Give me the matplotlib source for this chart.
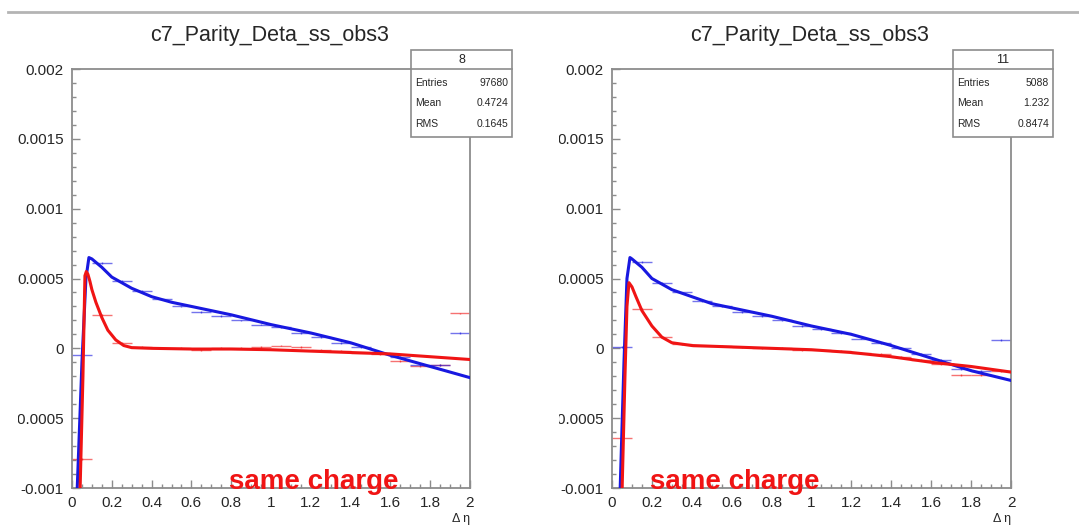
import numpy as np
import matplotlib
matplotlib.use("Agg")
import matplotlib.pyplot as plt
from matplotlib.lines import Line2D
from matplotlib.patches import Rectangle
from matplotlib.transforms import Bbox, TransformedBbox

plt.rcParams['font.family'] = ['Liberation Sans', 'DejaVu Sans']

# histogram bins (delta eta), width 0.1
bin_centers = [0.05, 0.15, 0.25, 0.35, 0.45, 0.55, 0.65, 0.75, 0.85, 0.95,
               1.05, 1.15, 1.25, 1.35, 1.45, 1.55, 1.65, 1.75, 1.85, 1.95]

# left canvas (stat box "8")
left_red_hist = [-0.00079, 0.00024, 0.00004, 0.00001, 0.0, 0.0, -0.00001, 0.0, 0.0, 0.00001,
                 0.00002, 0.00001, -0.00001, -0.00002, -0.00003, -0.00004, -0.00009, -0.00013, -0.00012, 0.00025]
left_blue_hist = [-0.00005, 0.00061, 0.00048, 0.00041, 0.00035, 0.0003, 0.00026, 0.00023, 0.0002, 0.00017,
                  0.00015, 0.00011, 0.00008, 0.00004, 0.00001, -0.00003, -0.00006, -0.00012, -0.00012, 0.00011]
left_red_fit_x = [0.04, 0.055, 0.065, 0.072, 0.08, 0.09, 0.1, 0.12, 0.15, 0.18, 0.22, 0.26, 0.3, 0.4, 0.6, 0.8,
                  1.0, 1.2, 1.4, 1.6, 1.8, 2.0]
left_red_fit_y = [-0.00105, -0.0002, 0.00052, 0.00055, 0.00053, 0.00048, 0.00042, 0.00033, 0.00022, 0.00013,
                  0.00006, 0.00002, 0.000005, 0.0, -0.000005, -0.000005, -0.00001, -0.00002, -0.00003, -0.00004,
                  -0.00006, -0.00008]
left_blue_fit_x = [0.025, 0.05, 0.07, 0.085, 0.1, 0.15, 0.2, 0.3, 0.4, 0.5, 0.6, 0.8, 1.0, 1.2, 1.4, 1.6, 1.8, 2.0]
left_blue_fit_y = [-0.00105, -0.0001, 0.0005, 0.00065, 0.00064, 0.00058, 0.00051, 0.00043, 0.00037, 0.00033,
                   0.0003, 0.00024, 0.00017, 0.00011, 0.00004, -0.00005, -0.00013, -0.00021]

# right canvas (stat box "11")
right_red_hist = [-0.00064, 0.00028, 0.00008, 0.00003, 0.00002, 0.00002, 0.00001, 0.0, 0.0, -0.00001,
                  -0.00001, -0.00002, -0.00003, -0.00004, -0.00006, -0.00008, -0.00011, -0.00019, -0.00019, -0.00016]
right_blue_hist = [0.00001, 0.00062, 0.00047, 0.0004, 0.00034, 0.0003, 0.00026, 0.00023, 0.0002, 0.00016,
                   0.00014, 0.00011, 0.00007, 0.00004, 0.0, -0.00004, -0.00008, -0.00015, -0.00016, 0.00006]
right_red_fit_x = [0.05, 0.065, 0.075, 0.085, 0.1, 0.12, 0.15, 0.2, 0.25, 0.3, 0.4, 0.6, 0.8, 1.0, 1.2, 1.4,
                   1.6, 1.8, 2.0]
right_red_fit_y = [-0.00105, -0.0002, 0.0003, 0.00047, 0.00044, 0.00037, 0.00027, 0.00016, 0.00008, 0.00004,
                   0.00002, 0.00001, 0.0, -0.00001, -0.00003, -0.00006, -0.0001, -0.00013, -0.00017]
right_blue_fit_x = [0.04, 0.06, 0.075, 0.09, 0.1, 0.15, 0.2, 0.3, 0.4, 0.5, 0.6, 0.8, 1.0, 1.2, 1.4, 1.6, 1.8, 2.0]
right_blue_fit_y = [-0.00105, -0.0001, 0.0005, 0.00065, 0.00064, 0.00058, 0.0005, 0.00042, 0.00037, 0.00032,
                    0.00029, 0.00023, 0.00016, 0.0001, 0.00002, -0.00007, -0.00016, -0.00023]

titles = ['c7_Parity_Deta_ss_obs3', 'c7_Parity_Deta_ss_obs3']
stat_names = ['8', '11']
stat_entries = ['97680', '5088']
stat_mean = ['0.4724', '1.232']
stat_rms = ['0.1645', '0.8474']

y_ticks = [-0.001, -0.0005, 0, 0.0005, 0.001, 0.0015, 0.002]
y_tick_labels = ['-0.001', '-0.0005', '0', '0.0005', '0.001', '0.0015', '0.002']
x_ticks = [0, 0.2, 0.4, 0.6, 0.8, 1.0, 1.2, 1.4, 1.6, 1.8, 2.0]
x_tick_labels = ['0', '0.2', '0.4', '0.6', '0.8', '1', '1.2', '1.4', '1.6', '1.8', '2']

RED = '#f01414'
BLUE = '#1818e0'
GRAY = '#8c8c8c'

W, H = 1079, 529
fig = plt.figure(figsize=(W / 100, H / 100), dpi=100)

# thin gray separator at the top
fig.add_artist(Line2D([8 / W, 1.0], [1 - 12 / H] * 2, transform=fig.transFigure,
                      color='#b4b4b4', lw=2))

panels = [
    dict(x0=72, x1=470, clip=18, box=(411, 512), text_x=314, title_x=270,
         red_hist=left_red_hist, blue_hist=left_blue_hist,
         red_fit=(left_red_fit_x, left_red_fit_y), blue_fit=(left_blue_fit_x, left_blue_fit_y)),
    dict(x0=612, x1=1011, clip=559, box=(953, 1053), text_x=735, title_x=810,
         red_hist=right_red_hist, blue_hist=right_blue_hist,
         red_fit=(right_red_fit_x, right_red_fit_y), blue_fit=(right_blue_fit_x, right_blue_fit_y)),
]

y_top, y_bot = 69, 488

for i, p in enumerate(panels):
    ax = fig.add_axes([p['x0'] / W, 1 - y_bot / H, (p['x1'] - p['x0']) / W, (y_bot - y_top) / H])
    ax.set_xlim(0, 2)
    ax.set_ylim(-0.001, 0.002)

    # histogram points: bin-width bars
    ax.errorbar(bin_centers, p['red_hist'], xerr=0.05, yerr=0.000006, fmt='none',
                ecolor=RED, elinewidth=1.0, alpha=0.6, zorder=2)
    ax.errorbar(bin_centers, p['blue_hist'], xerr=0.05, yerr=0.000006, fmt='none',
                ecolor=BLUE, elinewidth=1.0, alpha=0.6, zorder=2)

    # fit curves
    ax.plot(p['blue_fit'][0], p['blue_fit'][1], color=BLUE, lw=2.2, zorder=3)
    ax.plot(p['red_fit'][0], p['red_fit'][1], color=RED, lw=2.2, zorder=4)

    for s in ax.spines.values():
        s.set_color(GRAY)
        s.set_linewidth(1.3)

    ax.set_yticks(y_ticks)
    ax.set_yticklabels(y_tick_labels)
    ax.set_yticks(np.arange(-0.001, 0.00201, 0.0001), minor=True)
    ax.set_xticks(x_ticks)
    ax.set_xticklabels(x_tick_labels)
    ax.set_xticks(np.arange(0, 2.001, 0.05), minor=True)
    ax.tick_params(which='both', direction='in', color=GRAY, width=1, top=False, right=False)
    ax.tick_params(which='major', length=6, labelsize=11, labelcolor='#262626')
    ax.tick_params(which='minor', length=3)
    ax.tick_params(axis='x', which='major', pad=6)
    ax.tick_params(axis='y', which='major', pad=6)

    # ROOT canvas edge cuts the long y labels
    clip = TransformedBbox(Bbox.from_extents(p['clip'] / W, 0, 1, 1), fig.transFigure)
    for lab in ax.get_yticklabels():
        lab.set_clip_on(True)
        lab.set_clip_box(clip)

    ax.set_xlabel('Δ η', loc='right', fontsize=9, color='#262626', labelpad=2)

    fig.text(p['text_x'] / W, 1 - 489 / H, 'same charge', color=RED, fontsize=20,
             fontweight='bold', ha='center', va='baseline', zorder=10)

    fig.text(p['title_x'] / W, 1 - 35 / H, titles[i], fontsize=15.5, ha='center',
             va='center', color='#262626')

    # stats box
    bx0, bx1 = p['box']
    by0, by1, bdiv = 50, 137, 69
    fig.add_artist(Rectangle((bx0 / W, 1 - by1 / H), (bx1 - bx0) / W, (by1 - by0) / H,
                             transform=fig.transFigure, facecolor='white', edgecolor=GRAY,
                             lw=1.2, zorder=5))
    fig.add_artist(Line2D([bx0 / W, bx1 / W], [1 - bdiv / H] * 2, transform=fig.transFigure,
                          color=GRAY, lw=1.2, zorder=6))
    fig.text((bx0 + bx1) / 2 / W, 1 - 60 / H, stat_names[i], fontsize=9, ha='center',
             va='center', zorder=7, color='#262626')
    rows = [('Entries', stat_entries[i], 83), ('Mean', stat_mean[i], 103), ('RMS', stat_rms[i], 124)]
    for name, val, yy in rows:
        fig.text((bx0 + 4) / W, 1 - yy / H, name, fontsize=7.5, ha='left', va='center',
                 zorder=7, color='#262626')
        fig.text((bx1 - 4) / W, 1 - yy / H, val, fontsize=7.5, ha='right', va='center',
                 zorder=7, color='#262626')

fig.savefig('out.png', dpi=100)
